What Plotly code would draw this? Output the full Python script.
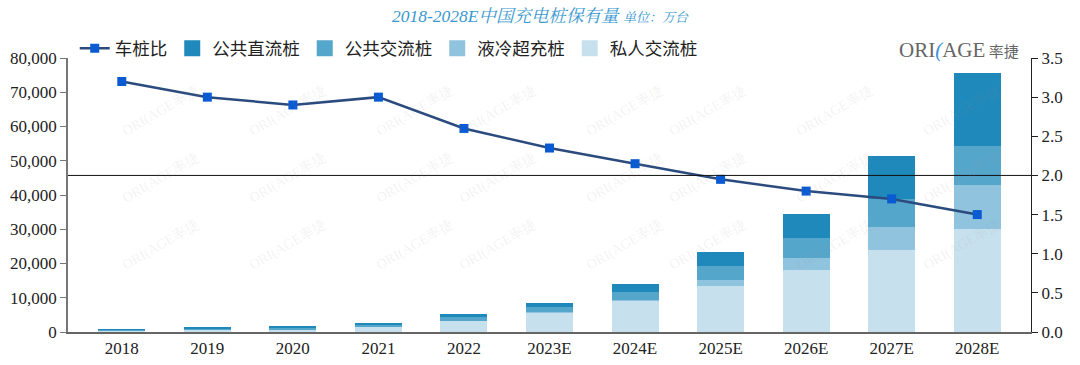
import plotly.graph_objects as go

years = ["2018", "2019", "2020", "2021", "2022", "2023E", "2024E", "2025E", "2026E", "2027E", "2028E"]
private_ac = [390, 703, 874, 1470, 3300, 5600, 9150, 13400, 18200, 23900, 30000]
liquid_cool = [0, 0, 0, 0, 50, 200, 200, 1900, 3500, 6800, 13000]
public_ac = [223, 301, 498, 677, 1040, 1500, 2400, 3900, 5700, 8000, 11200]
public_dc = [164, 215, 309, 470, 760, 1100, 2300, 4100, 7100, 12600, 21300]
car_pile_ratio = [3.2, 3.0, 2.9, 3.0, 2.6, 2.35, 2.15, 1.95, 1.8, 1.7, 1.5]
ref_line_y2 = 2.0

C_DC = "#1f89bb"
C_AC = "#55a6cb"
C_LIQ = "#8fc3de"
C_PRI = "#c6e1ed"

W, H = 1080, 365
ML, MR, MT, MB = 68, 49, 58, 33

fig = go.Figure()
bar_specs = [
    ("私人交流桩", private_ac, C_PRI, 5),
    ("液冷超充桩", liquid_cool, C_LIQ, 4),
    ("公共交流桩", public_ac, C_AC, 3),
    ("公共直流桩", public_dc, C_DC, 2),
]
for name, vals, col, rank in bar_specs:
    fig.add_trace(go.Bar(
        x=years, y=vals, name=name, marker=dict(color=col, line=dict(width=0)),
        showlegend=False, yaxis="y",
    ))
    # legend proxy (larger square swatch)
    fig.add_trace(go.Scatter(
        x=[None], y=[None], name=name, mode="markers",
        marker=dict(symbol="square", size=16, color=col),
        legendrank=rank, showlegend=True, hoverinfo="skip",
    ))

fig.add_trace(go.Scatter(
    x=years, y=car_pile_ratio, name="车桩比", yaxis="y2", mode="lines+markers",
    line=dict(color="#2b4b7f", width=2.5),
    marker=dict(symbol="square", size=9, color="#0a5ad2"),
    legendrank=1,
))

serif = "Liberation Serif, Times New Roman, serif"
cjk = "Noto Sans CJK SC, sans-serif"
TICK = 17

fig.update_layout(
    width=W, height=H,
    margin=dict(l=ML, r=MR, t=MT, b=MB, autoexpand=False),
    paper_bgcolor="white", plot_bgcolor="white",
    barmode="stack", bargap=0.45,
    showlegend=True,
    legend=dict(
        orientation="h", x=0.007, y=1.035, xanchor="left", yanchor="middle",
        font=dict(family=cjk, size=17.5, color="#222"),
        traceorder="normal", itemwidth=30, bgcolor="rgba(0,0,0,0)",
    ),
    xaxis=dict(
        type="category", showline=True, linecolor="#666", linewidth=1.5,
        ticks="", tickfont=dict(family=serif, size=TICK, color="#222"),
        showgrid=False, automargin=False,
    ),
    yaxis=dict(
        range=[0, 80000], dtick=10000, tickformat=",",
        showline=True, linecolor="#777", linewidth=1.5,
        ticks="outside", ticklen=6, tickcolor="#777",
        tickfont=dict(family=serif, size=TICK, color="#222"),
        showgrid=False, zeroline=False, automargin=False,
    ),
    yaxis2=dict(
        range=[0, 3.5], dtick=0.5, tickformat=".1f", overlaying="y", side="right",
        showline=True, linecolor="#222", linewidth=1.2,
        ticks="outside", ticklen=6, tickcolor="#222",
        tickfont=dict(family=serif, size=TICK, color="#222"),
        showgrid=False, zeroline=False, automargin=False,
    ),
)

fig.add_shape(type="line", xref="paper", x0=0, x1=1, yref="y2", y0=ref_line_y2, y1=ref_line_y2,
              line=dict(color="#111", width=1))

# faint watermarks
pw = W - ML - MR
ph = H - MT - MB
for py in [80, 178, 276]:
    for k in range(8):
        px = 117 + 127 * k
        fig.add_annotation(
            xref="paper", yref="paper", x=(px - ML) / pw, y=(H - MB - py) / ph,
            text="ORI(AGE率捷", textangle=-30, showarrow=False,
            font=dict(family=serif, size=14, color="rgba(150,150,150,0.13)"),
        )

fig.add_annotation(
    xref="paper", yref="paper", x=(541 - ML) / pw, y=(H - MB - 16) / ph,
    xanchor="center", yanchor="middle",
    text="<i>2018-2028E中国充电桩保有量 <span style='font-size:13px'>单位：万台</span></i>",
    showarrow=False, font=dict(family="Liberation Serif, Noto Serif CJK SC, serif", size=17.5, color="#3a98cf"),
)
fig.add_annotation(
    xref="paper", yref="paper", x=(1021 - ML) / pw, y=(H - MB - 50) / ph,
    xanchor="right", yanchor="middle",
    text="ORI<span style='color:#3d8fd6'><i>(</i></span>AGE<span style='font-size:15px; font-family:Noto Sans CJK SC'> 率捷</span>",
    showarrow=False, font=dict(family=serif, size=21, color="#666"),
)

fig.write_html("out.html", config={"displayModeBar": False},
               post_script="document.body.style.margin='0';")
